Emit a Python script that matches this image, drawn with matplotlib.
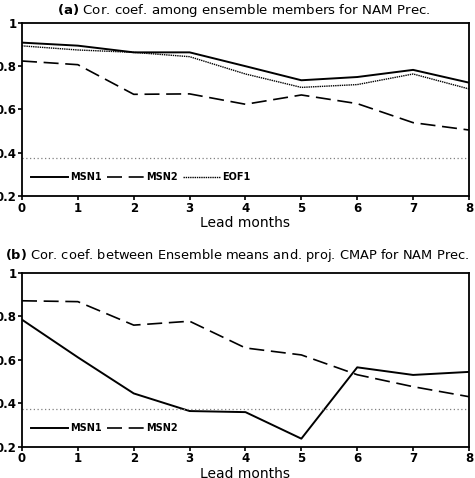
import matplotlib.pyplot as plt

# lead months on the x axis
lead = [0, 1, 2, 3, 4, 5, 6, 7, 8]

# panel (a) - cor. coef. among ensemble members
a_msn1 = [0.909, 0.895, 0.864, 0.864, 0.800, 0.735, 0.750, 0.783, 0.724]
a_msn2 = [0.824, 0.807, 0.670, 0.672, 0.624, 0.667, 0.627, 0.539, 0.505]
a_eof1 = [0.894, 0.875, 0.864, 0.844, 0.764, 0.702, 0.715, 0.764, 0.695]
a_sig = 0.377

# panel (b) - cor. coef. between ensemble means and proj. CMAP
b_msn1 = [0.785, 0.612, 0.446, 0.365, 0.360, 0.238, 0.566, 0.531, 0.545]
b_msn2 = [0.872, 0.868, 0.760, 0.778, 0.655, 0.623, 0.532, 0.477, 0.431]
b_sig = 0.375

yticks = [0.2, 0.4, 0.6, 0.8, 1]
ylabels = ["0.2", "0.4", "0.6", "0.8", "1"]

fig = plt.figure(figsize=(4.75, 4.78), dpi=100)
ax1 = fig.add_axes([0.0463, 0.590, 0.941, 0.362])
ax2 = fig.add_axes([0.0463, 0.065, 0.941, 0.364])


def style(ax):
    ax.set_xlim(0, 8)
    ax.set_ylim(0.2, 1)
    ax.set_xticks(lead)
    ax.set_xticklabels([str(v) for v in lead], fontsize=8.5, fontweight="bold")
    ax.set_yticks(yticks)
    ax.set_yticklabels(ylabels, fontsize=8.5, fontweight="bold")
    ax.tick_params(direction="out", length=3, width=1.2, pad=1)
    for s in ax.spines.values():
        s.set_linewidth(1.3)
    ax.set_xlabel("Lead months", fontsize=10, labelpad=1)


# panel (a)
ax1.plot(lead, a_msn1, color="black", lw=1.4, label="MSN1")
ax1.plot(lead, a_msn2, color="black", lw=1.2, dashes=(9, 4), label="MSN2")
ax1.plot(lead, a_eof1, color="black", lw=1.0, ls=(0, (1, 0.6)), label="EOF1")
ax1.axhline(a_sig, color="gray", lw=0.9, ls=(0, (1, 2)))
style(ax1)
ax1.legend(loc="lower left", bbox_to_anchor=(0.0, 0.03), ncol=3, frameon=False,
           handlelength=3.8, handletextpad=0.2, columnspacing=0.6,
           prop={"weight": "bold", "size": 7})
fig.text(0.513, 0.978, r"$\bf{(a)}$ Cor. coef. among ensemble members for NAM Prec.",
         ha="center", va="center", fontsize=9.6)

# panel (b)
ax2.plot(lead, b_msn1, color="black", lw=1.4, label="MSN1")
ax2.plot(lead, b_msn2, color="black", lw=1.2, dashes=(9, 4), label="MSN2")
ax2.axhline(b_sig, color="gray", lw=0.9, ls=(0, (1, 2)))
style(ax2)
ax2.legend(loc="lower left", bbox_to_anchor=(0.0, 0.03), ncol=2, frameon=False,
           handlelength=3.8, handletextpad=0.2, columnspacing=0.6,
           prop={"weight": "bold", "size": 7})
fig.text(0.5, 0.466, r"$\bf{(b)}$ Cor. coef. between Ensemble means and. proj. CMAP for NAM Prec.",
         ha="center", va="center", fontsize=9.4)

plt.savefig("out.png", dpi=100)
